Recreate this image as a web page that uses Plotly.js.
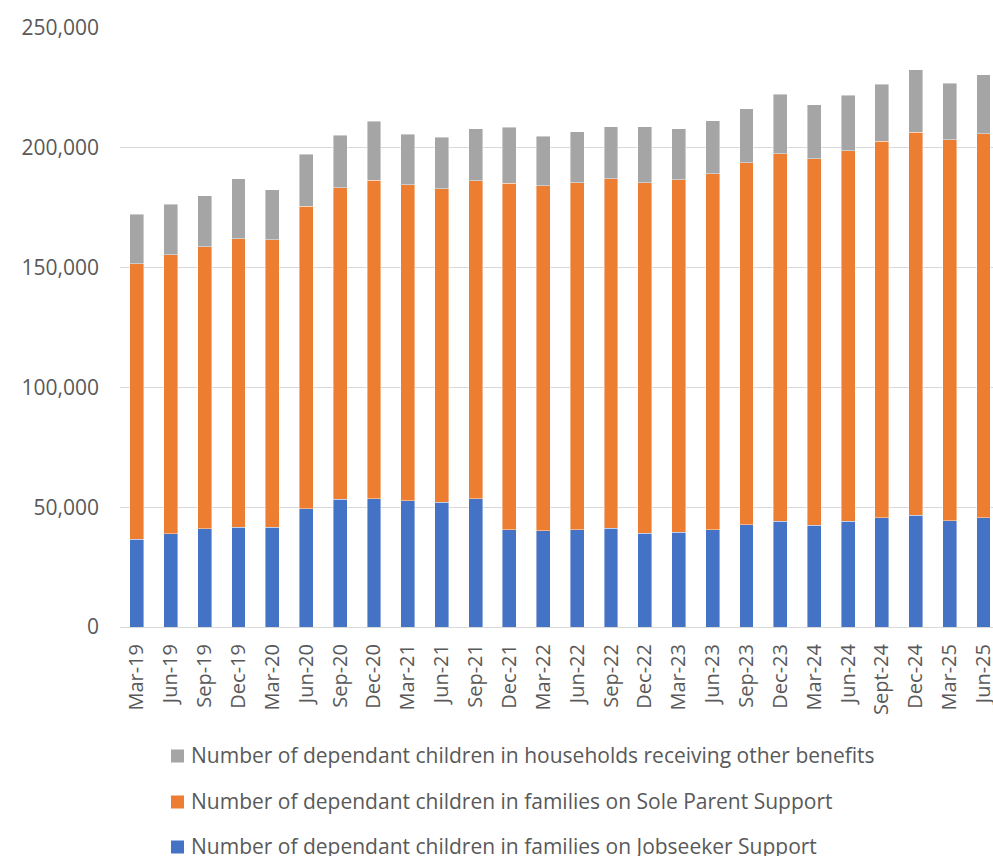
<!DOCTYPE html>
<html>
<head>
<meta charset="utf-8">
<script src="https://cdn.plot.ly/plotly-3.0.1.min.js"></script>
<style>html,body{margin:0;padding:0;background:#fff;}#chart{width:993px;height:856px;}</style>
</head>
<body>
<div id="chart"></div>
<script>
const quarters = ["Mar-19","Jun-19","Sep-19","Dec-19","Mar-20","Jun-20","Sep-20","Dec-20","Mar-21","Jun-21","Sep-21","Dec-21","Mar-22","Jun-22","Sep-22","Dec-22","Mar-23","Jun-23","Sep-23","Dec-23","Mar-24","Jun-24","Sept-24","Dec-24","Mar-25","Jun-25"];

const jobseeker = [36600,38900,41000,41700,41700,49400,53400,53500,52700,52000,53500,40600,40200,40600,41200,39200,39500,40600,42700,44100,42400,44200,45600,46600,44400,45600];

const soleParent = [115000,116400,117700,120400,119900,126300,129900,132900,131900,130900,132800,144600,144000,144800,145800,146200,147200,148600,151000,153400,153000,154600,157100,159900,159000,160300];

const otherBenefits = [20600,21100,21300,25000,20800,21600,22000,24700,21000,21500,21700,23400,20700,21300,21800,23300,21300,22100,22600,24800,22600,23200,23900,26000,23600,24500];

const seriesNames = [
  "Number of dependant children in families on Jobseeker Support",
  "Number of dependant children in families on Sole Parent Support",
  "Number of dependant children in households receiving other benefits"
];
const yTicks = [0,50000,100000,150000,200000,250000];
const yTickText = ["0","50,000","100,000","150,000","200,000","250,000"];

const colors = ["#4472C4","#ED7D31","#A5A5A5"];
const values = [jobseeker, soleParent, otherBenefits];

const traces = values.map((v,i) => ({
  type: "bar",
  x: quarters,
  y: v,
  name: seriesNames[i],
  marker: {color: colors[i], line: {color: "rgba(255,255,255,0.7)", width: 0.6}},
  hoverinfo: "x+y+name"
}));

// plot-area geometry (pixels) used to place the hand-drawn legend
const W = 993, H = 856, ML = 120, MT = 28, MB = 229;
const PW = W - ML, PH = H - MT - MB;
const px2x = p => (p - ML) / PW;
const px2y = p => (H - MB - p) / PH;

const font = "Open Sans, Noto Sans, sans-serif";
const txtColor = "#595959";

// legend: top-to-bottom order is other benefits, sole parent, jobseeker
const legendOrder = [2, 1, 0];
const legendRowCenters = [755, 801, 846];
const shapes = [];
const annotations = [];
legendOrder.forEach((s, r) => {
  const c = legendRowCenters[r];
  shapes.push({
    type: "rect", xref: "paper", yref: "paper",
    x0: px2x(171), x1: px2x(184),
    y0: px2y(c + 7.5), y1: px2y(c - 5.5),
    fillcolor: colors[s], line: {width: 0}
  });
  annotations.push({
    xref: "paper", yref: "paper",
    x: px2x(189), y: px2y(c),
    xanchor: "left", yanchor: "middle",
    showarrow: false,
    text: seriesNames[s],
    font: {family: font, size: 21, color: txtColor}
  });
});

const layout = {
  width: W, height: H,
  margin: {l: ML, r: 0, t: MT, b: MB},
  paper_bgcolor: "#fff", plot_bgcolor: "#fff",
  barmode: "stack",
  bargap: 0.59,
  showlegend: false,
  shapes: shapes,
  annotations: annotations,
  xaxis: {
    type: "category",
    range: [-0.5, 25.28],
    tickangle: -90,
    tickfont: {family: font, size: 20, color: txtColor},
    showgrid: false,
    showline: true, linecolor: "#D9D9D9", linewidth: 1,
    ticks: "",
    ticklabelstandoff: 8,
    automargin: false,
    fixedrange: true
  },
  yaxis: {
    range: [0, 250000],
    tickvals: yTicks,
    ticktext: yTickText,
    tickfont: {family: font, size: 21, color: txtColor},
    showgrid: true, gridcolor: "#D9D9D9", gridwidth: 1,
    zeroline: false,
    showline: false,
    ticks: "",
    ticklabelstandoff: 20,
    automargin: false,
    fixedrange: true
  }
};

Plotly.newPlot("chart", traces, layout, {displayModeBar: false, staticPlot: true});
</script>
</body>
</html>
